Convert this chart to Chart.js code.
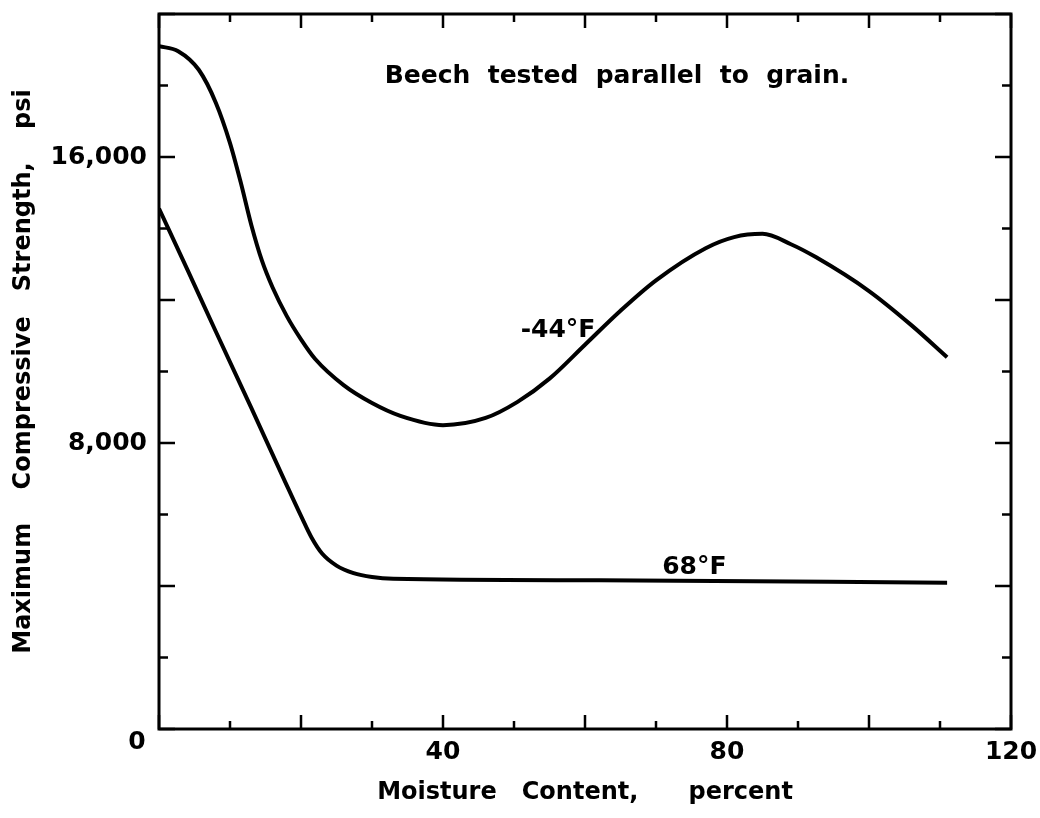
<!DOCTYPE html>
<html>
<head>
<meta charset="utf-8">
<script src="https://cdn.jsdelivr.net/npm/chart.js@4.4.1/dist/chart.umd.min.js"></script>
<style>
  html, body { margin: 0; padding: 0; background: #fff; }
  #wrap { width: 1040px; height: 818px; }
</style>
</head>
<body>
<div id="wrap"><canvas id="chart" width="1040" height="818"></canvas></div>
<script>
// Values: moisture content (%) vs max compressive strength (psi)
const moistureCold = [0, 2.7, 5.6, 8, 10, 11.5, 13, 14.5, 16, 18, 20, 22, 26, 30, 34, 40, 46, 50.5, 55, 60, 65, 70, 77, 81, 85, 89, 92.5, 100, 106, 111];
const strengthCold = [19100, 18960, 18440, 17520, 16390, 15300, 14100, 13100, 12350, 11550, 10900, 10350, 9620, 9120, 8760, 8500, 8700, 9150, 9800, 10750, 11700, 12550, 13450, 13760, 13850, 13560, 13200, 12250, 11290, 10400];
const moistureWarm = [0, 4, 8, 13, 17.8, 20, 21.5, 23, 25, 27.4, 30, 33, 62, 111];
const strengthWarm = [14560, 12850, 11120, 8980, 6900, 5960, 5350, 4900, 4570, 4360, 4250, 4200, 4160, 4090];

const xTickLabels = [40, 80, 120];
const yTickLabels = [8000, 16000];

const FONT = "'DejaVu Sans', sans-serif";

// Curve labels, placed in data units
const notes = [
    { text: 'Beech  tested  parallel  to  grain.', x: 64.5, y: 18250 },
    { text: '-44°F', x: 56.2, y: 11160 },
    { text: '68°F', x: 75.4, y: 4510 }
];

function toPoints(xs, ys) {
    return xs.map((x, i) => ({ x: x, y: ys[i] }));
}

// Frame with inward tick marks on all four sides, plus the text notes
const frameTicks = {
    id: 'frameTicks',
    afterDraw(chart) {
        const { ctx, chartArea: a, scales: { x, y } } = chart;
        ctx.save();
        ctx.strokeStyle = '#000';
        ctx.lineCap = 'butt';
        ctx.lineWidth = 3;
        ctx.strokeRect(a.left, a.top, a.right - a.left, a.bottom - a.top);

        ctx.lineWidth = 2.5;
        ctx.beginPath();
        x.ticks.forEach(t => {
            const px = x.getPixelForValue(t.value);
            const len = t.value % 20 === 0 ? 14 : 8;
            ctx.moveTo(px, a.bottom); ctx.lineTo(px, a.bottom - len);
            ctx.moveTo(px, a.top); ctx.lineTo(px, a.top + len);
        });
        y.ticks.forEach(t => {
            const py = y.getPixelForValue(t.value);
            const len = t.value % 4000 === 0 ? 16 : 9;
            ctx.moveTo(a.left, py); ctx.lineTo(a.left + len, py);
            ctx.moveTo(a.right, py); ctx.lineTo(a.right - len, py);
        });
        ctx.stroke();

        ctx.fillStyle = '#000';
        ctx.font = 'bold 25px ' + FONT;
        ctx.textAlign = 'center';
        ctx.textBaseline = 'middle';
        notes.forEach(n => {
            ctx.fillText(n.text, x.getPixelForValue(n.x), y.getPixelForValue(n.y));
        });
        // origin label sits below-left of the corner
        ctx.fillText('0', x.getPixelForValue(0) - 22, a.bottom + 13);
        ctx.restore();
    }
};

const ctx = document.getElementById('chart').getContext('2d');
new Chart(ctx, {
    type: 'scatter',
    data: {
        datasets: [
            {
                label: '-44°F',
                data: toPoints(moistureCold, strengthCold),
                showLine: true,
                borderColor: '#000',
                borderWidth: 4,
                pointRadius: 0,
                cubicInterpolationMode: 'monotone'
            },
            {
                label: '68°F',
                data: toPoints(moistureWarm, strengthWarm),
                showLine: true,
                borderColor: '#000',
                borderWidth: 4,
                pointRadius: 0,
                cubicInterpolationMode: 'monotone'
            }
        ]
    },
    options: {
        responsive: false,
        animation: false,
        layout: { padding: { top: 14, right: 29, left: 0, bottom: 0 } },
        plugins: {
            legend: { display: false },
            tooltip: { enabled: false }
        },
        scales: {
            x: {
                type: 'linear',
                min: 0,
                max: 120,
                afterFit: s => {
                    s.height = 89;
                    s.paddingLeft = 0;
                    s.paddingRight = 0;
                },
                grid: { display: false, drawTicks: false },
                border: { display: false },
                ticks: {
                    stepSize: 10,
                    autoSkip: false,
                    maxRotation: 0,
                    padding: 8,
                    color: '#000',
                    font: { family: FONT, size: 25, weight: 'bold' },
                    callback: v => xTickLabels.includes(v) ? String(v) : ''
                },
                title: {
                    display: true,
                    text: 'Moisture   Content,      percent',
                    color: '#000',
                    font: { family: FONT, size: 24, weight: 'bold' },
                    padding: { top: 0, bottom: 11 }
                }
            },
            y: {
                type: 'linear',
                min: 0,
                max: 20000,
                afterFit: s => {
                    s.width = 159;
                    s.paddingTop = 0;
                    s.paddingBottom = 0;
                },
                grid: { display: false, drawTicks: false },
                border: { display: false },
                ticks: {
                    stepSize: 2000,
                    autoSkip: false,
                    padding: 12,
                    color: '#000',
                    font: { family: FONT, size: 25, weight: 'bold' },
                    callback: v => yTickLabels.includes(v) ? v.toLocaleString('en-US') : ''
                },
                title: {
                    display: true,
                    text: 'Maximum    Compressive   Strength,    psi',
                    color: '#000',
                    font: { family: FONT, size: 24, weight: 'bold' },
                    padding: { top: 9, bottom: 0 }
                }
            }
        }
    },
    plugins: [frameTicks]
});
</script>
</body>
</html>
